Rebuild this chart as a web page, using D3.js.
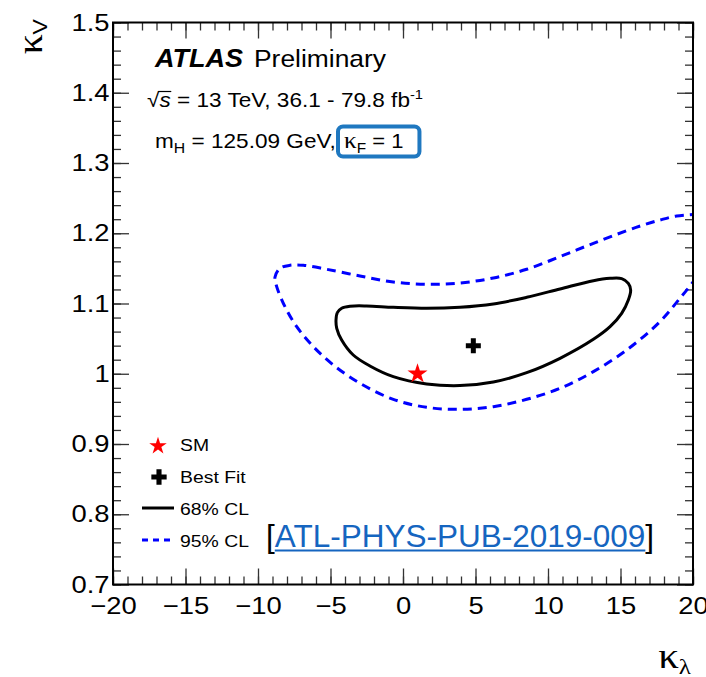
<!DOCTYPE html>
<html>
<head>
<meta charset="utf-8">
<script src="https://cdn.jsdelivr.net/npm/d3@7"></script>
<style>
  html, body { margin: 0; padding: 0; background: #fff; }
  svg { display: block; }
  text { font-family: "Liberation Sans", Arial, Helvetica, sans-serif; fill: #000; }
  .greek { font-family: "Liberation Serif", "Times New Roman", serif; }
</style>
</head>
<body>
<svg id="chart" width="706" height="677"></svg>
<script>
// Axis ranges
const kappaLambdaRange = [-20, 20];
const kappaVRange = [0.7, 1.5];

// Tick values
const xMajorTicks = [-20, -15, -10, -5, 0, 5, 10, 15, 20];
const yMajorTicks = [0.7, 0.8, 0.9, 1.0, 1.1, 1.2, 1.3, 1.4, 1.5];

// 68% CL contour (closed), points as [kappa_lambda, kappa_V]
const contour68 = [
  [-4.62, 1.0765], [-4.53, 1.0870], [-4.23, 1.0932], [-3.66, 1.0961], [-2.51, 1.0965],
  [-0.67, 1.0946], [1.63, 1.0932], [3.93, 1.0946], [6.23, 1.0993], [8.53, 1.1088],
  [10.83, 1.1207], [13.13, 1.1325], [14.28, 1.1358], [15.08, 1.1354], [15.54, 1.1287],
  [15.70, 1.1192], [15.54, 1.1050], [15.08, 1.0860], [14.28, 1.0670], [13.13, 1.0490],
  [10.83, 1.0220], [8.53, 1.0015], [6.23, 0.9882], [3.93, 0.9831], [1.63, 0.9855],
  [-0.67, 0.9959], [-2.28, 1.0111], [-3.43, 1.0267], [-4.23, 1.0481], [-4.57, 1.0647]
];

// 95% CL contour (open: leaves the frame at kappa_lambda = 20 on both branches)
const contour95 = [
  [20.4, 1.2270], [18.87, 1.2246], [17.72, 1.2188], [16.57, 1.2117], [15.43, 1.2037],
  [13.13, 1.1857], [10.83, 1.1667], [8.53, 1.1487], [6.23, 1.1363], [3.93, 1.1292],
  [1.63, 1.1273], [-0.67, 1.1306], [-2.97, 1.1392], [-5.26, 1.1487], [-6.87, 1.1544],
  [-7.79, 1.1544], [-8.48, 1.1502], [-8.83, 1.1373], [-8.71, 1.1240], [-8.14, 1.0955],
  [-7.33, 1.0670], [-6.18, 1.0385], [-4.80, 1.0124], [-2.97, 0.9864], [-0.67, 0.9636],
  [1.63, 0.9522], [3.93, 0.9494], [6.23, 0.9531], [8.53, 0.9636], [10.83, 0.9792],
  [13.13, 1.0030], [15.43, 1.0338], [17.72, 1.0742], [19.10, 1.1074], [20.02, 1.1311],
  [20.6, 1.1480]
];

// Standard Model point and best-fit point
const smPoint = [1, 1];
const bestFitPoint = [4.85, 1.04];

const svg = d3.select("#chart");
const frame = { left: 113, right: 693, top: 22.5, bottom: 584.5 };
const stretch = 1.14; // horizontal widening of the ROOT-style lettering

const x = d3.scaleLinear().domain(kappaLambdaRange).range([frame.left, frame.right]);
const y = d3.scaleLinear().domain(kappaVRange).range([frame.bottom, frame.top]);

const xMinorTicks = d3.range(kappaLambdaRange[0], kappaLambdaRange[1] + 0.001, 1);
const yMinorTicks = d3.range(0, 41).map(i => +(kappaVRange[0] + i * 0.02).toFixed(2));

const majorLen = 16, minorLen = 8;
const tickColor = "#333";

function styleAxis(g) {
  g.select(".domain").remove();
  g.selectAll(".tick line").attr("stroke", tickColor).attr("stroke-width", 1.3);
}

// A text block placed at (px, py) and widened horizontally
function label(px, py, size, sx = stretch) {
  const g = svg.append("g").attr("transform", `translate(${px},${py}) scale(${sx},1)`);
  const t = g.append("text").attr("x", 0).attr("y", 0).attr("font-size", size);
  return { g, t };
}

// Bottom axis
svg.append("g").attr("transform", `translate(0,${frame.bottom})`)
  .call(d3.axisBottom(x).tickValues(xMinorTicks).tickSize(-minorLen).tickFormat(""))
  .call(styleAxis);
const xAxisG = svg.append("g").attr("transform", `translate(0,${frame.bottom})`)
  .call(d3.axisBottom(x).tickValues(xMajorTicks).tickSize(-majorLen).tickPadding(12)
    .tickFormat(d3.format("d")))
  .call(styleAxis);
xAxisG.selectAll("text")
  .attr("font-size", 24)
  .attr("font-family", "Liberation Sans, Arial, sans-serif")
  .attr("transform", `scale(${stretch},1)`);

// Top axis (ticks only)
svg.append("g").attr("transform", `translate(0,${frame.top})`)
  .call(d3.axisTop(x).tickValues(xMinorTicks).tickSize(-minorLen).tickFormat(""))
  .call(styleAxis);
svg.append("g").attr("transform", `translate(0,${frame.top})`)
  .call(d3.axisTop(x).tickValues(xMajorTicks).tickSize(-majorLen).tickFormat(""))
  .call(styleAxis);

// Left axis
svg.append("g").attr("transform", `translate(${frame.left},0)`)
  .call(d3.axisLeft(y).tickValues(yMinorTicks).tickSize(-minorLen).tickFormat(""))
  .call(styleAxis);
const yAxisG = svg.append("g").attr("transform", `translate(${frame.left},0)`)
  .call(d3.axisLeft(y).tickValues(yMajorTicks).tickSize(-majorLen).tickPadding(3)
    .tickFormat(d => d === 1 ? "1" : d3.format(".1f")(d)))
  .call(styleAxis);
yAxisG.selectAll("text")
  .attr("font-size", 24)
  .attr("font-family", "Liberation Sans, Arial, sans-serif")
  .attr("transform", `scale(${stretch},1)`);

// Right axis (ticks only)
svg.append("g").attr("transform", `translate(${frame.right},0)`)
  .call(d3.axisRight(y).tickValues(yMinorTicks).tickSize(-minorLen).tickFormat(""))
  .call(styleAxis);
svg.append("g").attr("transform", `translate(${frame.right},0)`)
  .call(d3.axisRight(y).tickValues(yMajorTicks).tickSize(-majorLen).tickFormat(""))
  .call(styleAxis);

// Clip region for the contours
svg.append("clipPath").attr("id", "plotClip")
  .append("rect")
  .attr("x", frame.left).attr("y", frame.top)
  .attr("width", frame.right - frame.left).attr("height", frame.bottom - frame.top);

const plot = svg.append("g").attr("clip-path", "url(#plotClip)");

// 95% CL contour: dashed blue
plot.append("path")
  .datum(contour95)
  .attr("d", d3.line().x(d => x(d[0])).y(d => y(d[1])).curve(d3.curveCatmullRom.alpha(0.5)))
  .attr("fill", "none")
  .attr("stroke", "#0000ff")
  .attr("stroke-width", 3)
  .attr("stroke-dasharray", "9,6");

// 68% CL contour: solid black
plot.append("path")
  .datum(contour68)
  .attr("d", d3.line().x(d => x(d[0])).y(d => y(d[1])).curve(d3.curveCatmullRomClosed.alpha(0.5)))
  .attr("fill", "none")
  .attr("stroke", "#000")
  .attr("stroke-width", 3);

// SM point and best-fit point
plot.append("path")
  .attr("transform", `translate(${x(smPoint[0])},${y(smPoint[1])})`)
  .attr("d", d3.symbol(d3.symbolStar, 125)())
  .attr("fill", "#ff0000");

plot.append("path")
  .attr("transform", `translate(${x(bestFitPoint[0])},${y(bestFitPoint[1])})`)
  .attr("d", d3.symbol(d3.symbolCross, 125)())
  .attr("fill", "#000");

// Frame
svg.append("rect")
  .attr("x", frame.left).attr("y", frame.top)
  .attr("width", frame.right - frame.left).attr("height", frame.bottom - frame.top)
  .attr("fill", "none").attr("stroke", "#000").attr("stroke-width", 2);

// Axis titles
{
  const { t } = label(691, 668, 36);
  t.attr("text-anchor", "end").attr("class", "greek");
  t.append("tspan").text("κ");
  t.append("tspan").attr("font-size", 22).attr("dy", 6).text("λ");
}
{
  const g = svg.append("g").attr("transform", "translate(42,19) rotate(-90) scale(1.1,1)");
  const t = g.append("text").attr("text-anchor", "end").attr("class", "greek").attr("font-size", 36);
  t.append("tspan").text("κ");
  t.append("tspan").attr("font-size", 21).attr("dy", 5)
    .attr("font-family", "Liberation Sans, Arial, sans-serif").text("V");
}

// ATLAS label
{
  const { t } = label(155, 67, 25, 1.08);
  t.attr("font-weight", "bold").attr("font-style", "italic").text("ATLAS");
}
{
  const { t } = label(254, 67, 24, 1.1);
  t.text("Preliminary");
}

// Energy and luminosity
{
  const { g, t } = label(147, 107, 20, 1.13);
  t.append("tspan").text("√");
  const sSpan = t.append("tspan").attr("font-style", "italic").text("s");
  t.append("tspan").text(" = 13 TeV, 36.1 - 79.8 fb");
  t.append("tspan").attr("font-size", 13).attr("dy", -8).text("-1");
  const ex = sSpan.node().getExtentOfChar(0);
  g.append("line")
    .attr("x1", ex.x - 1).attr("x2", ex.x + ex.width + 0.5)
    .attr("y1", -15.5).attr("y2", -15.5)
    .attr("stroke", "#000").attr("stroke-width", 1.2);
}

// Higgs mass and kappa_F
{
  const { t } = label(155, 148, 20, 1.13);
  t.append("tspan").text("m");
  t.append("tspan").attr("font-size", 14).attr("dy", 5).text("H");
  t.append("tspan").attr("dy", -5).text(" = 125.09 GeV,");
}
{
  const sx = 1.1;
  const { t } = label(344, 148, 20, sx);
  t.append("tspan").attr("class", "greek").attr("font-size", 23).text("κ");
  t.append("tspan").attr("font-size", 14).attr("dy", 5).text("F");
  t.append("tspan").attr("dy", -5).text(" = 1");
  const bb = t.node().getBBox();
  const right = 344 + (bb.x + bb.width) * sx + 16;
  svg.append("rect")
    .attr("x", 338).attr("y", 126.5)
    .attr("width", right - 338).attr("height", 30)
    .attr("rx", 5).attr("ry", 5)
    .attr("fill", "none").attr("stroke", "#1f78c0").attr("stroke-width", 4);
}

// Legend
svg.append("path")
  .attr("transform", "translate(158,446)")
  .attr("d", d3.symbol(d3.symbolStar, 95)())
  .attr("fill", "#ff0000");
label(180, 451, 17).t.text("SM");

svg.append("path")
  .attr("transform", "translate(159,477)")
  .attr("d", d3.symbol(d3.symbolCross, 130)())
  .attr("fill", "#000");
label(180, 483, 17).t.text("Best Fit");

svg.append("line")
  .attr("x1", 142).attr("x2", 174).attr("y1", 508).attr("y2", 508)
  .attr("stroke", "#000").attr("stroke-width", 3);
label(180, 515, 17).t.text("68% CL");

svg.append("line")
  .attr("x1", 142).attr("x2", 174).attr("y1", 540).attr("y2", 540)
  .attr("stroke", "#0000ff").attr("stroke-width", 3).attr("stroke-dasharray", "6,5");
label(180, 547, 17).t.text("95% CL");

// Publication reference
{
  const ref = svg.append("text").attr("x", 266).attr("y", 547).attr("font-size", 31.5);
  ref.append("tspan").text("[");
  const refLink = ref.append("tspan").attr("fill", "#1565c0").style("fill", "#1565c0")
    .text("ATL-PHYS-PUB-2019-009");
  ref.append("tspan").text("]");
  const n = refLink.node();
  const first = n.getExtentOfChar(0);
  const last = n.getExtentOfChar(n.getNumberOfChars() - 1);
  svg.append("line")
    .attr("x1", first.x).attr("x2", last.x + last.width)
    .attr("y1", 550.5).attr("y2", 550.5)
    .attr("stroke", "#1565c0").attr("stroke-width", 2);
}
</script>
</body>
</html>
